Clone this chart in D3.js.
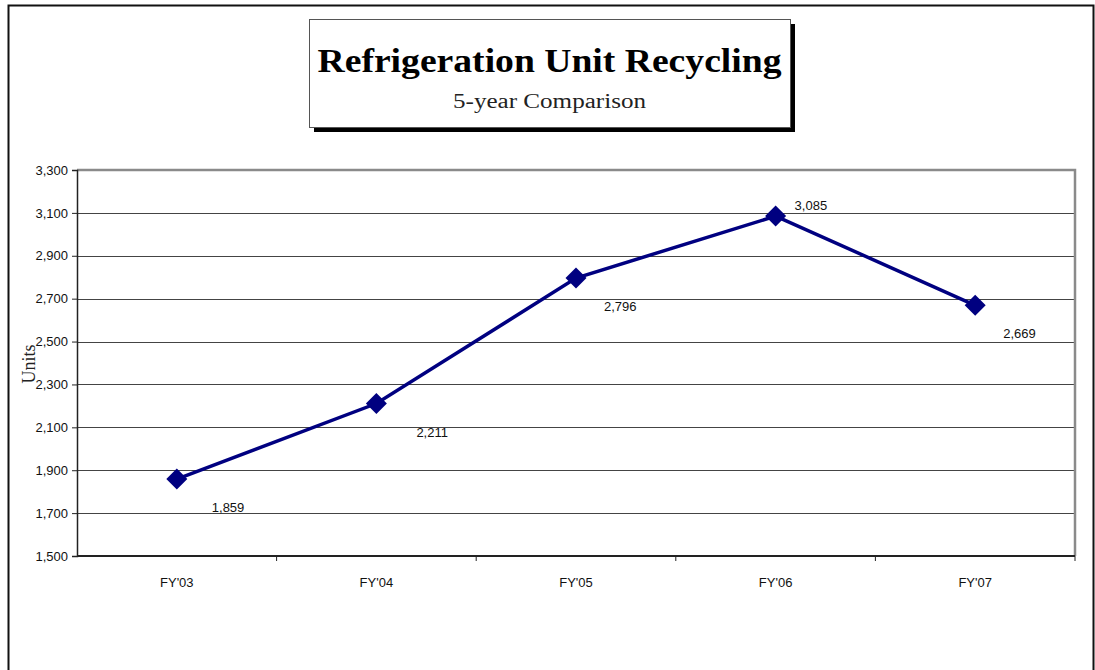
<!DOCTYPE html>
<html>
<head>
<meta charset="utf-8">
<script src="https://cdn.jsdelivr.net/npm/d3@7"></script>
<style>
  body { margin: 0; background: #fff; }
  svg { display: block; }
</style>
</head>
<body>
<div id="chart"></div>
<script>
// Chart data
const years = ["FY'03", "FY'04", "FY'05", "FY'06", "FY'07"]
const units = [1859, 2211, 2796, 3085, 2669]
const yTicks = [1500, 1700, 1900, 2100, 2300, 2500, 2700, 2900, 3100, 3300]

const width = 1095
const height = 670
const margin = { top: 170, right: 20, bottom: 114, left: 77 }

const svg = d3.select("#chart").append("svg")
  .attr("width", width)
  .attr("height", height)

// outer frame (bottom edge runs off the page)
svg.append("path")
  .attr("d", `M8.5,${height + 5} V5.5 H1093.5 V${height + 5}`)
  .attr("fill", "none")
  .attr("stroke", "#111")
  .attr("stroke-width", 2)

const x = d3.scaleBand()
  .domain(years)
  .range([margin.left, width - margin.right])

const y = d3.scaleLinear()
  .domain([1500, 3300])
  .range([height - margin.bottom, margin.top])

// grid lines
svg.append("g")
  .selectAll("line")
  .data(yTicks.slice(1, -1))
  .join("line")
  .attr("x1", margin.left)
  .attr("x2", width - margin.right)
  .attr("y1", d => Math.round(y(d)) + 0.5)
  .attr("y2", d => Math.round(y(d)) + 0.5)
  .attr("stroke", "#444")
  .attr("stroke-width", 1)

// plot border, gray on top and right
svg.append("path")
  .attr("d", `M${margin.left},${y(3300)} H${width - margin.right} V${y(1500)}`)
  .attr("fill", "none")
  .attr("stroke", "#8a8a8a")
  .attr("stroke-width", 2.5)

// y axis
const yAxis = svg.append("g")
  .attr("transform", `translate(${margin.left},0)`)
  .call(d3.axisLeft(y).tickValues(yTicks).tickSize(5).tickPadding(4).tickFormat(d3.format(",")))
yAxis.select(".domain").attr("stroke", "#222").attr("stroke-width", 1.5)
yAxis.selectAll(".tick line").attr("stroke", "#222")
yAxis.selectAll("text")
  .attr("font-family", "Liberation Sans, Arial, sans-serif")
  .attr("font-size", 13)
  .attr("fill", "#111")

// x axis with ticks between categories
const xAxis = svg.append("g")
  .attr("transform", `translate(0,${y(1500)})`)
xAxis.append("line")
  .attr("x1", margin.left)
  .attr("x2", width - margin.right)
  .attr("stroke", "#222")
  .attr("stroke-width", 2)
xAxis.selectAll("line.tk")
  .data(years)
  .join("line")
  .attr("class", "tk")
  .attr("x1", d => x(d) + x.bandwidth())
  .attr("x2", d => x(d) + x.bandwidth())
  .attr("y1", 0)
  .attr("y2", 5)
  .attr("stroke", "#222")
xAxis.selectAll("text")
  .data(years)
  .join("text")
  .attr("x", d => x(d) + x.bandwidth() / 2)
  .attr("y", 31)
  .attr("text-anchor", "middle")
  .attr("font-family", "Liberation Sans, Arial, sans-serif")
  .attr("font-size", 13)
  .attr("fill", "#111")
  .text(d => d)

// y axis title
svg.append("text")
  .attr("transform", `translate(35,364) rotate(-90)`)
  .attr("text-anchor", "middle")
  .attr("font-family", "Liberation Serif, Times New Roman, serif")
  .attr("font-size", 18)
  .attr("fill", "#222")
  .text("Units")

// the series line
const line = d3.line()
  .x((d, i) => x(years[i]) + x.bandwidth() / 2)
  .y(d => y(d))

svg.append("path")
  .datum(units)
  .attr("d", line)
  .attr("fill", "none")
  .attr("stroke", "#000080")
  .attr("stroke-width", 3.5)

svg.append("g")
  .selectAll("path")
  .data(units)
  .join("path")
  .attr("transform", (d, i) => `translate(${x(years[i]) + x.bandwidth() / 2},${y(d)})`)
  .attr("d", "M0,-10.5 L10.5,0 L0,10.5 L-10.5,0 Z")
  .attr("fill", "#000080")

// value labels, the peak gets its label above
const peak = d3.maxIndex(units)
const labelDx = [35, 40, 28, 19, 28]
svg.append("g")
  .selectAll("text")
  .data(units)
  .join("text")
  .attr("x", (d, i) => x(years[i]) + x.bandwidth() / 2 + labelDx[i])
  .attr("y", (d, i) => y(d) + (i === peak ? -6 : 33))
  .attr("font-family", "Liberation Sans, Arial, sans-serif")
  .attr("font-size", 13)
  .attr("fill", "#111")
  .text(d => d3.format(",")(d))

// title box with a drop shadow
const box = { x: 309, y: 19, w: 481, h: 108 }
svg.append("rect")
  .attr("x", box.x + 5).attr("y", box.y + 5)
  .attr("width", box.w).attr("height", box.h)
  .attr("fill", "#000")
svg.append("rect")
  .attr("x", box.x + 0.5).attr("y", box.y + 0.5)
  .attr("width", box.w).attr("height", box.h)
  .attr("fill", "#fff")
  .attr("stroke", "#555")
  .attr("stroke-width", 1)

svg.append("text")
  .attr("x", box.x + box.w / 2)
  .attr("y", 72)
  .attr("text-anchor", "middle")
  .attr("font-family", "Liberation Serif, Times New Roman, serif")
  .attr("font-weight", "bold")
  .attr("font-size", 33)
  .attr("textLength", 464)
  .attr("lengthAdjust", "spacingAndGlyphs")
  .attr("fill", "#000")
  .text("Refrigeration Unit Recycling")

svg.append("text")
  .attr("x", box.x + box.w / 2)
  .attr("y", 108)
  .attr("text-anchor", "middle")
  .attr("font-family", "Liberation Serif, Times New Roman, serif")
  .attr("font-size", 20)
  .attr("textLength", 193)
  .attr("lengthAdjust", "spacingAndGlyphs")
  .attr("fill", "#222")
  .text("5-year Comparison")
</script>
</body>
</html>
